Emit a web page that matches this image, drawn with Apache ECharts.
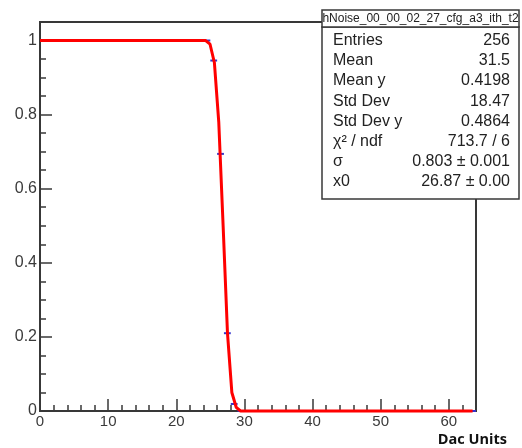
<!DOCTYPE html>
<html>
<head>
<meta charset="utf-8">
<script src="https://cdn.jsdelivr.net/npm/echarts@6/dist/echarts.min.js"></script>
<style>
html,body{margin:0;padding:0;background:#fff;}
#c{width:522px;height:448px;}
</style>
</head>
<body>
<div id="c"></div>
<script>
// Profile bins (bin centres) and their values
const binCenters = [0.5,1.5,2.5,3.5,4.5,5.5,6.5,7.5,8.5,9.5,10.5,11.5,12.5,13.5,14.5,15.5,16.5,17.5,18.5,19.5,20.5,21.5,22.5,23.5,24.5,25.5,26.5,27.5,28.5,29.5,30.5,31.5,32.5,33.5,34.5,35.5,36.5,37.5,38.5,39.5,40.5,41.5,42.5,43.5,44.5,45.5,46.5,47.5,48.5,49.5,50.5,51.5,52.5,53.5,54.5,55.5,56.5,57.5,58.5,59.5,60.5,61.5,62.5,63.5];
const binValues  = [1,1,1,1,1,1,1,1,1,1,1,1,1,1,1,1,1,1,1,1,1,1,1,1,1,0.946,0.694,0.210,0.019,0,0,0,0,0,0,0,0,0,0,0,0,0,0,0,0,0,0,0,0,0,0,0,0,0,0,0,0,0,0,0,0,0,0,0];
const binHalfWidth = 0.5;

// Fit curve polyline
const fitX = [0, 24.32, 24.96, 25.6, 26.24, 26.88, 27.52, 28.16, 28.8, 29.44, 63.5];
const fitY = [1, 1,     0.99,  0.94, 0.78,  0.50,  0.21,  0.05,  0.01, 0,     0];

// Axis ticks
const xMin = 0, xMax = 64, xMajor = 10, xMinor = 2;
const yMin = 0, yMax = 1.05, yMajor = 0.2, yMinor = 0.05;

// Stats box
const statsTitle = 'hNoise_00_00_02_27_cfg_a3_ith_t2';
const statsLabels = ['Entries','Mean','Mean y','Std Dev','Std Dev y','χ² / ndf','σ','x0'];
const statsValues = ['256','31.5','0.4198','18.47','0.4864','713.7 / 6','0.803 ± 0.001','26.87 ± 0.00'];
const xTitle = 'Dac Units';

const FONT = '"Liberation Sans", Arial, Helvetica, sans-serif';
const AX = '#383838';
const chart = echarts.init(document.getElementById('c'), null, {renderer:'canvas'});

const fitData = fitX.map((x,i)=>[x, fitY[i]]);
const pts = binCenters.map((x,i)=>[x, binValues[i]]);

const statsGraphics = [];
const bx = 322, bw = 197, tTop = 10, tBot = 27, bBot = 199;
statsGraphics.push({type:'rect', z:100, shape:{x:bx, y:tBot, width:bw, height:bBot-tBot}, style:{fill:'#fff', stroke:AX, lineWidth:1.5}});
statsGraphics.push({type:'rect', z:100, shape:{x:bx, y:tTop, width:bw, height:tBot-tTop}, style:{fill:'#fff', stroke:AX, lineWidth:1.5}});
statsGraphics.push({type:'text', z:101, x:bx+bw/2, y:(tTop+tBot)/2+0.5, style:{text:statsTitle, fill:'#222', font:'12px '+FONT, textAlign:'center', textVerticalAlign:'middle'}});
const rowY0 = 40.5, rowStep = 20.2;
statsLabels.forEach((l,i)=>{
  statsGraphics.push({type:'text', z:101, x:333, y:rowY0+i*rowStep, style:{text:l, fill:'#222', font:'16px '+FONT, textAlign:'left', textVerticalAlign:'middle'}});
  statsGraphics.push({type:'text', z:101, x:510, y:rowY0+i*rowStep, style:{text:statsValues[i], fill:'#222', font:'16px '+FONT, textAlign:'right', textVerticalAlign:'middle'}});
});
statsGraphics.push({type:'text', z:101, x:507, y:440, style:{text:xTitle, fill:'#111', font:'bold 14.5px "Open Sans", "Noto Sans", sans-serif', textAlign:'right', textVerticalAlign:'middle'}});

const labelStyle = {color:'#3a3a3a', fontFamily:FONT, fontSize:15};

chart.setOption({
  animation:false,
  backgroundColor:'#fff',
  grid:{left:40, right:46, top:22, bottom:37, show:true, borderColor:AX, borderWidth:2, backgroundColor:'transparent', containLabel:false, outerBoundsMode:'none'},
  xAxis:[
    {type:'value', position:'bottom', min:xMin, max:xMax, interval:xMajor,
     axisLine:{show:true, onZero:false, lineStyle:{color:AX, width:2}},
     axisTick:{show:true, inside:true, length:12, lineStyle:{color:AX, width:1.5}},
     axisLabel:{show:true, margin:3, showMaxLabel:false, ...labelStyle},
     splitLine:{show:false}},
    {type:'value', position:'bottom', min:xMin, max:xMax, interval:xMinor,
     axisLine:{show:false, onZero:false},
     axisTick:{show:true, inside:true, length:6, lineStyle:{color:AX, width:1.5}},
     axisLabel:{show:false}, splitLine:{show:false}}
  ],
  yAxis:[
    {type:'value', position:'left', min:yMin, max:yMax, interval:yMajor,
     axisLine:{show:true, onZero:false, lineStyle:{color:AX, width:2}},
     axisTick:{show:true, inside:true, length:12, lineStyle:{color:AX, width:1.5}},
     axisLabel:{show:true, margin:3, showMaxLabel:false, ...labelStyle, fontSize:16},
     splitLine:{show:false}},
    {type:'value', position:'left', min:yMin, max:yMax, interval:yMinor,
     axisLine:{show:false, onZero:false},
     axisTick:{show:true, inside:true, length:6, lineStyle:{color:AX, width:1.5}},
     axisLabel:{show:false}, splitLine:{show:false}}
  ],
  series:[
    {type:'custom', xAxisIndex:0, yAxisIndex:0, z:3, clip:false, data:pts,
     renderItem:function(params, api){
       const x = api.value(0), y = api.value(1);
       const p1 = api.coord([x-binHalfWidth, y]), p2 = api.coord([x+binHalfWidth, y]);
       return {type:'line', shape:{x1:p1[0], y1:p1[1], x2:p2[0], y2:p2[1]}, style:{stroke:'#3434cc', lineWidth:2}};
     }},
    {type:'line', xAxisIndex:0, yAxisIndex:0, z:4, clip:false, data:fitData, showSymbol:false, symbol:'none', smooth:false,
     lineStyle:{color:'#ff0000', width:3}}
  ],
  graphic:statsGraphics
});
</script>
</body>
</html>
